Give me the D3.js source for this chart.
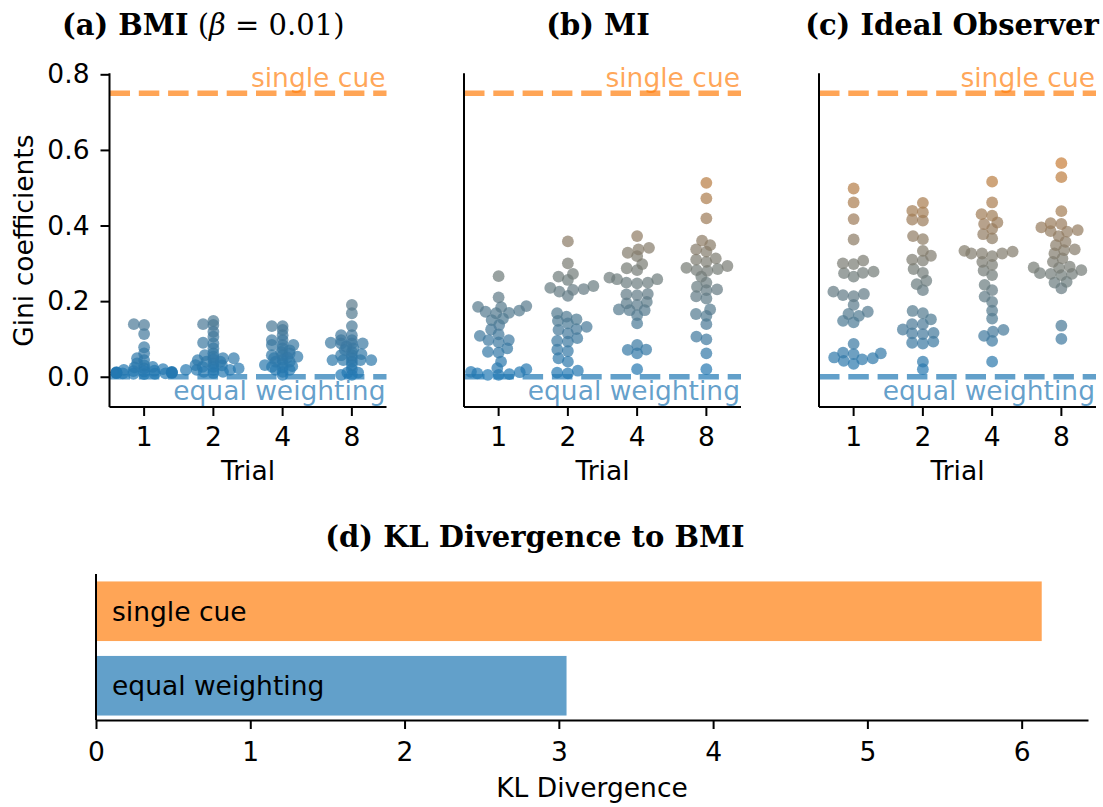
<!DOCTYPE html>
<html>
<head>
<meta charset="utf-8">
<script src="https://cdn.jsdelivr.net/npm/d3@7"></script>
<style>
  html, body { margin: 0; padding: 0; background: #fff; }
  svg { display: block; }
  .tick text { font-family: "DejaVu Sans", sans-serif; font-size: 26.5px; fill: #000; }
  .ttl { font-family: "DejaVu Serif", serif; font-size: 29px; fill: #000; }
  .lab { font-family: "DejaVu Sans", sans-serif; font-size: 26.5px; fill: #000; }
</style>
</head>
<body>
<svg id="chart" width="1103" height="807"></svg>
<script>
// Trial conditions shown on the x axis of the three swarm panels
const trials = ["1", "2", "4", "8"];

// Gini coefficients per participant, BMI model (beta = 0.01)
const bmiTrial1 = [0.139, 0.137, 0.113, 0.078, 0.062, 0.049, 0.044, 0.035, 0.030, 0.026, 0.025, 0.022, 0.020, 0.018, 0.016, 0.015, 0.014, 0.013, 0.012, 0.012, 0.011, 0.011, 0.010, 0.010, 0.010, 0.009, 0.009, 0.008, 0.008, 0.007];
const bmiTrial2 = [0.148, 0.139, 0.137, 0.119, 0.106, 0.090, 0.088, 0.075, 0.062, 0.057, 0.053, 0.049, 0.049, 0.046, 0.044, 0.040, 0.040, 0.035, 0.031, 0.030, 0.026, 0.026, 0.022, 0.018, 0.018, 0.018, 0.018, 0.013, 0.013, 0.010];
const bmiTrial4 = [0.134, 0.134, 0.124, 0.110, 0.097, 0.097, 0.084, 0.084, 0.084, 0.075, 0.070, 0.066, 0.062, 0.057, 0.057, 0.053, 0.051, 0.049, 0.045, 0.040, 0.040, 0.035, 0.031, 0.028, 0.026, 0.025, 0.018, 0.018, 0.013, 0.005];
const bmiTrial8 = [0.190, 0.168, 0.134, 0.110, 0.110, 0.097, 0.097, 0.090, 0.088, 0.088, 0.088, 0.080, 0.075, 0.071, 0.066, 0.060, 0.057, 0.057, 0.049, 0.044, 0.044, 0.044, 0.044, 0.040, 0.031, 0.020, 0.011, 0.011, 0.005, 0.005];

// Gini coefficients per participant, MI model
const miTrial1 = [0.266, 0.210, 0.187, 0.185, 0.184, 0.175, 0.172, 0.169, 0.168, 0.154, 0.150, 0.137, 0.125, 0.112, 0.108, 0.097, 0.097, 0.091, 0.075, 0.066, 0.064, 0.040, 0.023, 0.020, 0.013, 0.012, 0.009, 0.007, 0.005, 0.005];
const miTrial2 = [0.358, 0.300, 0.272, 0.265, 0.256, 0.240, 0.235, 0.232, 0.230, 0.225, 0.214, 0.168, 0.159, 0.152, 0.148, 0.141, 0.132, 0.126, 0.124, 0.115, 0.102, 0.095, 0.093, 0.072, 0.068, 0.049, 0.040, 0.016, 0.011, 0.009];
const miTrial4 = [0.372, 0.341, 0.337, 0.328, 0.319, 0.298, 0.287, 0.282, 0.262, 0.258, 0.258, 0.249, 0.249, 0.247, 0.219, 0.218, 0.216, 0.198, 0.194, 0.190, 0.178, 0.176, 0.176, 0.163, 0.141, 0.084, 0.072, 0.071, 0.062, 0.020];
const miTrial8 = [0.513, 0.472, 0.419, 0.360, 0.348, 0.337, 0.331, 0.313, 0.310, 0.304, 0.293, 0.288, 0.285, 0.282, 0.280, 0.265, 0.249, 0.238, 0.231, 0.229, 0.213, 0.207, 0.178, 0.166, 0.161, 0.139, 0.106, 0.099, 0.062, 0.020];

// Gini coefficients per participant, ideal observer
const idealTrial1 = [0.498, 0.461, 0.417, 0.363, 0.307, 0.300, 0.298, 0.278, 0.275, 0.274, 0.265, 0.225, 0.219, 0.216, 0.213, 0.190, 0.172, 0.166, 0.161, 0.148, 0.144, 0.087, 0.064, 0.062, 0.060, 0.051, 0.049, 0.046, 0.042, 0.034];
const idealTrial2 = [0.460, 0.439, 0.435, 0.416, 0.413, 0.372, 0.364, 0.333, 0.320, 0.310, 0.307, 0.285, 0.275, 0.254, 0.245, 0.229, 0.174, 0.168, 0.152, 0.139, 0.139, 0.125, 0.116, 0.115, 0.113, 0.093, 0.090, 0.088, 0.040, 0.020];
const idealTrial4 = [0.516, 0.461, 0.430, 0.426, 0.408, 0.404, 0.391, 0.377, 0.366, 0.333, 0.331, 0.326, 0.326, 0.326, 0.319, 0.304, 0.296, 0.281, 0.269, 0.243, 0.229, 0.212, 0.198, 0.175, 0.154, 0.124, 0.119, 0.108, 0.095, 0.040];
const idealTrial8 = [0.565, 0.528, 0.438, 0.406, 0.404, 0.395, 0.388, 0.385, 0.384, 0.372, 0.357, 0.348, 0.337, 0.335, 0.326, 0.313, 0.304, 0.291, 0.289, 0.288, 0.282, 0.274, 0.272, 0.272, 0.269, 0.251, 0.249, 0.234, 0.135, 0.100];

// Reference strategies
const singleCueGini = 0.75;
const equalWeightingGini = 0.0;

// KL divergence of each reference strategy to BMI
const klStrategies = ["equal weighting", "single cue"];
const klValues = [3.05, 6.13];

// Axis ticks
const giniTicks = [0.0, 0.2, 0.4, 0.6, 0.8];
const klTicks = [0, 1, 2, 3, 4, 5, 6];

const C0 = "#1f77b4", C1 = "#ff7f0e";
const ALPHA = 0.7;
const colorOf = d3.scaleLinear().domain([equalWeightingGini, singleCueGini])
  .range([C0, C1]).interpolate(d3.interpolateRgb).clamp(true);

const svg = d3.select("#chart");

const panels = [
  { data: [bmiTrial1, bmiTrial2, bmiTrial4, bmiTrial8], x0: 109.5, yLabels: true },
  { data: [miTrial1, miTrial2, miTrial4, miTrial8], x0: 464, yLabels: false },
  { data: [idealTrial1, idealTrial2, idealTrial4, idealTrial8], x0: 819, yLabels: false }
];
const panelW = 277;
const yTop = 74.3, yBot = 407;
const yDomain = [-0.08, 0.8];
const y = d3.scaleLinear().domain(yDomain).range([yBot, yTop]);
const R = 5.9;        // drawn marker radius
const D = 10.8;       // spacing between neighbouring markers in the swarm

// Beeswarm laid out on each panel's own autoscaled value range (5% margins),
// then shown on the shared axis: place points in order of value, each at the
// candidate offset nearest the midline that does not collide; clip to gutters.
function beeswarm(values, cx, half, stretch) {
  const pts = values.map(v => ({ v, y: y(v), sy: y(v) * stretch })).sort((a, b) => a.v - b.v);
  const placed = [];
  for (const p of pts) {
    if (!placed.length) { p.x = cx; placed.push(p); continue; }
    const nb = placed.filter(q => Math.abs(q.sy - p.sy) < D);
    const cands = [cx];
    for (const q of nb) {
      const dx = Math.sqrt(D * D - (q.sy - p.sy) ** 2);
      cands.push(q.x - dx, q.x + dx);
    }
    cands.sort((a, b) => Math.abs(a - cx) - Math.abs(b - cx));
    let chosen = cands[cands.length - 1];
    for (const c of cands) {
      if (nb.every(q => (q.x - c) ** 2 + (q.sy - p.sy) ** 2 >= D * D - 1e-6)) { chosen = c; break; }
    }
    p.x = chosen;
    placed.push(p);
  }
  placed.forEach(p => { p.x = Math.max(cx - half, Math.min(cx + half, p.x)); });
  return placed;
}

panels.forEach(P => {
  const g = svg.append("g");
  const x = d3.scaleBand().domain(trials).range([P.x0, P.x0 + panelW]);
  const step = x.step();
  const ext = d3.extent(P.data.flat());
  const stretch = (yDomain[1] - yDomain[0]) / ((ext[1] - ext[0]) * 1.1);

  // reference lines
  const refs = [
    { v: singleCueGini, c: C1, label: "single cue", above: true },
    { v: equalWeightingGini, c: C0, label: "equal weighting", above: false }
  ];
  refs.forEach(rf => {
    g.append("line")
      .attr("x1", P.x0).attr("x2", P.x0 + panelW)
      .attr("y1", y(rf.v)).attr("y2", y(rf.v))
      .attr("stroke", rf.c).attr("stroke-opacity", ALPHA)
      .attr("stroke-width", 5.5).attr("stroke-dasharray", "20.5,8.8");
    g.append("text")
      .attr("class", "lab")
      .attr("x", P.x0 + panelW - 1)
      .attr("y", y(rf.v) + (rf.above ? -6 : 23))
      .attr("text-anchor", "end")
      .style("fill", rf.c).style("fill-opacity", ALPHA)
      .text(rf.label);
  });

  // swarms
  P.data.forEach((vals, i) => {
    const cx = x(trials[i]) + step / 2;
    const pts = beeswarm(vals, cx, 0.4 * step, stretch);
    g.append("g").selectAll("circle").data(pts).join("circle")
      .attr("cx", d => d.x).attr("cy", d => d.y).attr("r", R)
      .attr("fill", d => colorOf(d.v)).attr("fill-opacity", ALPHA);
  });

  // axes
  const xAxis = d3.axisBottom(x).tickSize(9).tickPadding(11).tickSizeOuter(0);
  const gx = g.append("g").attr("transform", `translate(0,${yBot})`).call(xAxis);
  gx.select(".domain").attr("stroke-width", 2).attr("d", `M${P.x0},0H${P.x0 + panelW}`);
  gx.selectAll(".tick line").attr("stroke-width", 2);

  const gy = g.append("g").attr("transform", `translate(${P.x0},0)`);
  if (P.yLabels) {
    gy.call(d3.axisLeft(y).tickValues(giniTicks).tickFormat(d3.format(".1f")).tickSize(9).tickPadding(11).tickSizeOuter(0));
    gy.selectAll(".tick line").attr("stroke-width", 2);
    gy.select(".domain").attr("stroke-width", 2).attr("d", `M0,${yBot}V${yTop - 1}`);
  } else {
    gy.append("line").attr("x1", 0).attr("x2", 0).attr("y1", yBot).attr("y2", yTop - 1)
      .attr("stroke", "#000").attr("stroke-width", 2);
  }

  g.append("text").attr("class", "lab")
    .attr("x", P.x0 + panelW / 2).attr("y", 480)
    .attr("text-anchor", "middle").text("Trial");
});

// y axis label
svg.append("text").attr("class", "lab")
  .attr("transform", `translate(33,${(yTop + yBot) / 2}) rotate(-90)`)
  .attr("text-anchor", "middle").text("Gini coefficients");

// panel titles
const t1 = svg.append("text").attr("class", "ttl").attr("x", 62).attr("y", 35);
t1.append("tspan").attr("font-weight", "bold").text("(a) BMI");
t1.append("tspan").text(" (");
t1.append("tspan").attr("font-style", "italic").text("β");
t1.append("tspan").text(" = 0.01)");

svg.append("text").attr("class", "ttl").attr("font-weight", "bold")
  .attr("x", 598).attr("y", 35).attr("text-anchor", "middle").text("(b) MI");
svg.append("text").attr("class", "ttl").attr("font-weight", "bold")
  .attr("x", 952).attr("y", 35).attr("text-anchor", "middle").text("(c) Ideal Observer");
svg.append("text").attr("class", "ttl").attr("font-weight", "bold")
  .attr("x", 535).attr("y", 547).attr("text-anchor", "middle").text("(d) KL Divergence to BMI");

// KL divergence bars
const kx0 = 96, kx1 = 1088, kyTop = 574, kyBot = 720;
const kx = d3.scaleLinear().domain([0, 6.43]).range([kx0, kx1]);
const ky = d3.scaleLinear().domain([-0.46, 1.5]).range([kyBot, kyTop]);
const barColors = [C0, C1];
const kg = svg.append("g");
kg.selectAll("rect").data(klValues).join("rect")
  .attr("x", kx(0))
  .attr("y", (d, i) => ky(i + 0.4))
  .attr("width", d => kx(d) - kx(0))
  .attr("height", (d, i) => ky(i - 0.4) - ky(i + 0.4))
  .attr("fill", (d, i) => barColors[i]).attr("fill-opacity", ALPHA);
kg.selectAll("text.bl").data(klStrategies).join("text")
  .attr("class", "lab bl")
  .attr("x", 112).attr("y", (d, i) => ky(i)).attr("dy", "0.35em")
  .text(d => d);

const kgx = kg.append("g").attr("transform", `translate(0,${kyBot})`)
  .call(d3.axisBottom(kx).tickValues(klTicks).tickFormat(d3.format("d")).tickSize(9).tickPadding(13).tickSizeOuter(0));
kgx.select(".domain").attr("stroke-width", 2);
kgx.selectAll(".tick line").attr("stroke-width", 2);
kg.append("line").attr("x1", kx0).attr("x2", kx0).attr("y1", kyBot).attr("y2", kyTop)
  .attr("stroke", "#000").attr("stroke-width", 2);
kg.append("text").attr("class", "lab")
  .attr("x", (kx0 + kx1) / 2).attr("y", 797).attr("text-anchor", "middle").text("KL Divergence");
</script>
</body>
</html>
